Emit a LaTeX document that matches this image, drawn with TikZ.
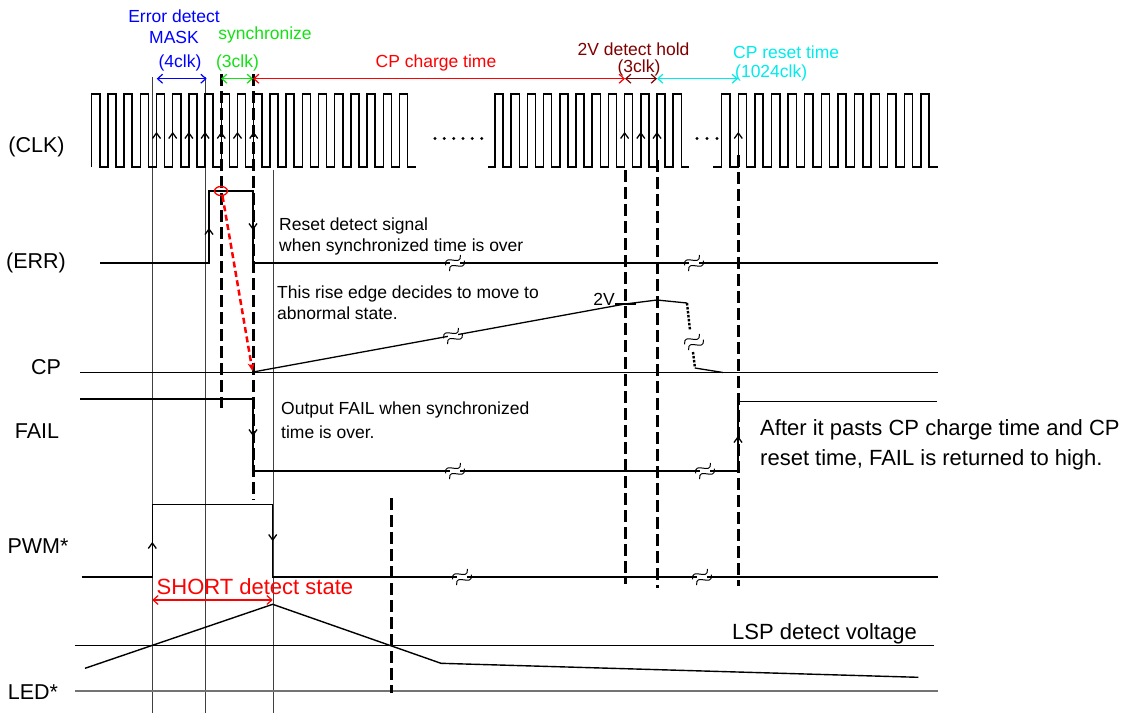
\documentclass[tikz,border=0pt]{standalone}
\usepackage{fontspec}
\setmainfont{Liberation Sans}
\usetikzlibrary{arrows.meta}
\definecolor{maskblue}{RGB}{0,0,255}
\definecolor{syncgreen}{RGB}{20,225,20}
\definecolor{chargered}{RGB}{255,0,0}
\definecolor{holdred}{RGB}{128,0,0}
\definecolor{resetcyan}{RGB}{0,235,235}

\begin{document}
\begin{tikzpicture}[x=1pt,y=-1pt,
             sig/.style={inner sep=0pt, font=\fontsize{21.5}{26}\selectfont},
             lbl/.style={inner sep=0pt, font=\fontsize{17.5}{21}\selectfont},
             note/.style={inner sep=0pt, align=left, anchor=west,
                font=\fontsize{17.5}{21}\selectfont},
             bignote/.style={inner sep=0pt, align=left,
                font=\fontsize{22}{30}\selectfont},
             wave/.style={line width=1.5pt, line join=miter},
             level/.style={line width=1pt},
             guide/.style={line width=0.9pt, black!75},
             marker/.style={line width=3pt, dash pattern=on 12pt off 5pt},
             span/.style={line width=1.2pt,
                arrows={Straight Barb[length=5pt,width=9pt]-Straight Barb[length=5pt,width=9pt]}},
             brk/.pic={\fill[white] (-5,-3) rectangle (5,3);
                \draw[line width=1pt, rotate=35] (-9,-3.5) .. controls (-3,-15) and (3,8) .. (9,-3.5);
                \draw[line width=1pt, rotate=35] (-9,3.5) .. controls (-3,-8) and (3,15) .. (9,3.5);},
             uparr/.pic={\draw[line width=1.3pt] (-4,5.5) -- (0,0) -- (4,5.5);},
             dnarr/.pic={\draw[line width=1.3pt] (-4,-5.5) -- (0,0) -- (4,-5.5);},
          ]
          \useasboundingbox (0,0) rectangle (1129,713);

          % signal names
          \node at (36.5,147) (nclk) [sig] {(CLK)};
          \node at (36,263) (nerr) [sig] {(ERR)};
          \node at (46,367) (ncp) [sig] {CP};
          \node at (37,431) (nfail) [sig] {FAIL};
          \node at (38,546) (npwm) [sig] {PWM*};
          \node at (33,692) (nled) [sig] {LED*};

          % thin guides
          \draw[guide] (152.5,77) -- (152.5,713);
          \draw[guide] (205,77) -- (205,713);
          \draw[guide] (273,170) -- (273,713);

          % CLK
          \draw[wave] (91.7,167) \foreach \k in {1,...,20} { -- ++(0,-73) -- ++(8.1,0) -- ++(0,73) -- ++(8.1,0) };
          \draw[wave] (488.3,167) -- (495,167) \foreach \k in {1,...,12} { -- ++(0,-73) -- ++(8.1,0) -- ++(0,73) -- ++(8.1,0) };
          \draw[wave] (713.3,167) -- (721.7,167) \foreach \k in {1,...,13} { -- ++(0,-73) -- ++(8.3,0) -- ++(0,73) -- ++(8.3,0) };
          \foreach \k in {4,...,10} \pic at ({91.7+16.2*\k},133) {uparr};
          \foreach \k in {8,9,10} \pic at ({495+16.2*\k},133) {uparr};
          \pic at (738.3,133) {uparr};
          \foreach \k in {0,...,5} \fill ({435+9.33*\k},138.5) circle [radius=1.6pt];
          \foreach \k in {0,1,2} \fill ({697+10*\k},138.5) circle [radius=1.6pt];

          % ERR
          \draw[wave] (100,263) -- (209,263) -- (209,191) -- (253,191) -- (253,263) -- (938,263);
          \pic at (209,229) {uparr};
          \pic at (253,229) {dnarr};
          \pic at (455,263) {brk};
          \pic at (694,263) {brk};

          % CP
          \draw[level] (80,372.5) -- (938,372.5);
          \draw[line width=1.3pt] (253,372) -- (625,304) -- (657,300) -- (687,303);
          \draw[line width=2.4pt, dash pattern=on 2.5pt off 1.5pt] (687,303) -- (690,330);
          \draw[line width=2.4pt, dash pattern=on 2.5pt off 1.5pt] (693,352) -- (695,368);
          \draw[line width=1.3pt] (695,368) -- (723,372.5);
          \draw[line width=1.5pt] (615,304) -- (636,304);
          \pic at (453,336) {brk};
          \pic at (694,342) {brk};

          % FAIL
          \draw[wave] (80,399) -- (253,399) -- (253,471) -- (738,471) -- (738,401.5) -- (937,401.5);
          \pic at (253,435) {dnarr};
          \pic at (738,437) {uparr};
          \pic at (455,471) {brk};
          \pic at (705,471) {brk};

          % PWM
          \draw[wave] (81.7,577) -- (152.3,577) -- (152.3,504.5) -- (272.7,504.5) -- (272.7,577) -- (938,577);
          \pic at (152.3,543) {uparr};
          \pic at (272.7,540) {dnarr};
          \pic at (462,577) {brk};
          \pic at (702,577) {brk};

          % LED
          \draw[level] (75,645.7) -- (934,645.7);
          \draw[line width=1.3pt, black!55] (75,691) -- (938,691);
          \draw[line width=1.4pt] (85,668.3) -- (272.7,604.3) -- (441,663.3) -- (918.3,677.3);

          % timing markers
          \draw[marker] (221,74) -- (221,408);
          \draw[marker] (253,74) -- (253,500);
          \draw[marker] (625,170) -- (625,584);
          \draw[marker] (657,160) -- (657,588);
          \draw[marker] (738,155) -- (738,586);
          \draw[marker] (391,498) -- (391,693);

          % error rise edge
          \coordinate (e1) at (222.5,196);
          \coordinate (e2) at (252.5,371);
          \draw[chargered, line width=1.3pt] (221,191) ellipse [x radius=6.5pt, y radius=4.5pt];
          \draw[chargered, line width=2.5pt, dash pattern=on 6pt off 3.5pt,
                -{Stealth[length=8pt,width=7pt]}] (e1) -- (e2);

          % spans
          \coordinate (s1) at (156.7,78.7);
          \coordinate (s2) at (206.7,78.7);
          \coordinate (s3) at (221,78.7);
          \coordinate (s4) at (253,78.7);
          \coordinate (s5) at (625,78.7);
          \coordinate (s6) at (657,78.7);
          \coordinate (s7) at (738,78.7);
          \coordinate (s8) at (152.3,600);
          \coordinate (s9) at (272.7,600);
          \draw[span, maskblue] (s1) -- (s2);
          \draw[span, syncgreen] (s3) -- (s4);
          \draw[span, chargered] (s4) -- (s5);
          \draw[span, holdred] (s5) -- (s6);
          \draw[span, resetcyan] (s6) -- (s7);
          \draw[span, chargered] (s8) -- (s9);

          \node at (174,16) (m1) [lbl, maskblue] {Error detect};
          \node at (174,37) (m2) [lbl, maskblue] {MASK};
          \node at (180,63) (m3) [lbl, maskblue] {(4clk)};
          \node at (265,35) (y1) [lbl, syncgreen] {synchronize};
          \node at (237.5,63) (y2) [lbl, syncgreen] {(3clk)};
          \node at (436,63) (c1) [lbl, chargered] {CP charge time};
          \node at (633.5,49) (h1) [lbl, holdred] {2V detect hold};
          \node at (639,67.5) (h2) [lbl, holdred] {(3clk)};
          \node at (733,52) (r1) [lbl, resetcyan, anchor=west] {CP reset time};
          \node at (735,73) (r2) [lbl, resetcyan, anchor=west] {(1024clk)};

          \node at (279,236.5) (t1) [note] {Reset detect signal\\when synchronized time is over};
          \node at (277,303) (t2) [note] {This rise edge decides to move to\\abnormal state.};
          \node at (281,420) (t3) [note, font=\fontsize{17.5}{24}\selectfont] {Output FAIL when synchronized\\time is over.};
          \node at (615,299) (t4) [lbl, anchor=east] {2V};
          \node at (760,445) (t5) [bignote, anchor=west] {After it pasts CP charge time and CP\\reset time, FAIL is returned to high.};
          \node at (156.5,587) (t6) [bignote, chargered, anchor=west] {SHORT detect state};
          \node at (917,634) (t7) [bignote, anchor=east] {LSP detect voltage};

       \end{tikzpicture}
\end{document}
